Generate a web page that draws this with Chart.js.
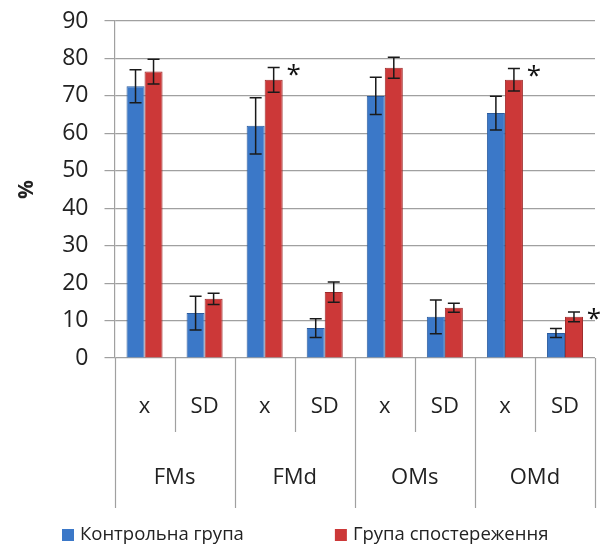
<!DOCTYPE html>
<html>
<head>
<meta charset="utf-8">
<script src="https://cdn.jsdelivr.net/npm/chart.js@4/dist/chart.umd.min.js"></script>
<style>
  body { margin: 0; background: #fff; }
  #wrap { width: 600px; height: 544px; }
</style>
</head>
<body>
<div id="wrap"><canvas class="myChart"></canvas></div>
<script>
const categories = ["x", "SD", "x", "SD", "x", "SD", "x", "SD"];
const groups = ["FMs", "FMd", "OMs", "OMd"];
const seriesNames = ["Контрольна група", "Група спостереження"];
const controlValues = [72.6, 12.0, 62.0, 8.0, 70.0, 11.0, 65.4, 6.7];
const controlErrors = [4.4, 4.5, 7.5, 2.5, 5.0, 4.5, 4.5, 1.2];
const observeValues = [76.5, 15.8, 74.3, 17.6, 77.5, 13.4, 74.3, 11.0];
const observeErrors = [3.3, 1.5, 3.3, 2.7, 2.8, 1.2, 3.0, 1.3];
const significant = [false, false, true, false, false, false, true, true];
const yTicks = [0, 10, 20, 30, 40, 50, 60, 70, 80, 90];

const FONT = "'Open Sans', sans-serif";
const colors = ["#3b78c8", "#cc3838"];
const errs = [controlErrors, observeErrors];

// error bars + asterisks
const errorBars = {
  id: "errorBars",
  afterDatasetsDraw(chart) {
    const c = chart.ctx;
    const ys = chart.scales.y;
    c.save();
    c.strokeStyle = "#1a1a1a";
    c.lineWidth = 1.5;
    chart.data.datasets.forEach((ds, d) => {
      chart.getDatasetMeta(d).data.forEach((bar, i) => {
        const top = ys.getPixelForValue(ds.data[i] + errs[d][i]);
        const bot = ys.getPixelForValue(ds.data[i] - errs[d][i]);
        c.beginPath();
        c.moveTo(bar.x, top); c.lineTo(bar.x, bot);
        c.moveTo(bar.x - 6, top); c.lineTo(bar.x + 6, top);
        c.moveTo(bar.x - 6, bot); c.lineTo(bar.x + 6, bot);
        c.stroke();
        if (d === 1 && significant[i]) {
          c.fillStyle = "#111";
          c.font = "26px " + FONT;
          c.textAlign = "center";
          c.textBaseline = "middle";
          c.fillText("*", bar.x + bar.width / 2 + 11, top + 8);
        }
      });
    });
    c.restore();
  }
};

// two-level category labels below the axis + legend
const groupAxis = {
  id: "groupAxis",
  afterDraw(chart) {
    const c = chart.ctx;
    const xs = chart.scales.x;
    const y0 = chart.chartArea.bottom;
    const half = (xs.getPixelForValue(1) - xs.getPixelForValue(0)) / 2;
    c.save();
    c.strokeStyle = "#a0a0a0";
    c.lineWidth = 1.2;
    for (let i = 0; i <= categories.length; i++) {
      const x = Math.round(xs.getPixelForValue(i) - half) + 0.5;
      c.beginPath();
      c.moveTo(x, y0);
      c.lineTo(x, y0 + (i % 2 === 0 ? 150 : 74));
      c.stroke();
    }
    c.fillStyle = "#222";
    c.textAlign = "center";
    c.textBaseline = "middle";
    c.font = "22px " + FONT;
    categories.forEach((lab, i) => {
      c.fillText(lab, xs.getPixelForValue(i), y0 + 49);
    });
    groups.forEach((g, k) => {
      const x = (xs.getPixelForValue(k * 2) + xs.getPixelForValue(k * 2 + 1)) / 2;
      c.fillText(g, x, y0 + 120);
    });

    // legend
    c.font = "18.5px " + FONT;
    c.textAlign = "left";
    const box = 12, gap = 6, between = 91;
    const widths = seriesNames.map((s) => box + gap + c.measureText(s).width);
    let x = 62;
    const ly = 535;
    seriesNames.forEach((s, k) => {
      c.fillStyle = colors[k];
      c.fillRect(x, ly - box / 2, box, box);
      c.fillStyle = "#222";
      c.fillText(s, x + box + gap, ly);
      x += widths[k] + between;
    });
    c.restore();
  }
};

new Chart(document.querySelector(".myChart"), {
  type: "bar",
  data: {
    labels: categories,
    datasets: [
      {
        label: seriesNames[0],
        data: controlValues,
        backgroundColor: colors[0],
        borderColor: "#2c5c9e",
        borderWidth: 1,
      },
      {
        label: seriesNames[1],
        data: observeValues,
        backgroundColor: colors[1],
        borderColor: "#9e2a2a",
        borderWidth: 1,
      },
    ],
  },
  options: {
    responsive: true,
    maintainAspectRatio: false,
    animation: false,
    layout: { padding: { top: 0, right: 5, left: 10, bottom: 0 } },
    datasets: { bar: { categoryPercentage: 0.6, barPercentage: 1.0 } },
    plugins: {
      tooltip: { enabled: false },
      legend: { display: false },
    },
    scales: {
      x: {
        ticks: { display: false },
        grid: { display: false },
        border: { display: false },
        afterFit: (s) => { s.height = 186; },
      },
      y: {
        min: 0,
        max: 90,
        afterBuildTicks: (s) => { s.ticks = yTicks.map((v) => ({ value: v })); },
        afterFit: (s) => { s.paddingTop = 21; },
        ticks: { font: { family: FONT, size: 23 }, color: "#222", padding: 16 },
        grid: { color: "#a0a0a0", lineWidth: 1.2, tickLength: 10 },
        border: { color: "#a0a0a0", width: 1.2 },
        title: {
          display: true,
          text: "%",
          font: { family: FONT, size: 21, weight: "bold" },
          color: "#222",
          padding: { bottom: 7 },
        },
      },
    },
  },
  plugins: [errorBars, groupAxis],
});
</script>
</body>
</html>
